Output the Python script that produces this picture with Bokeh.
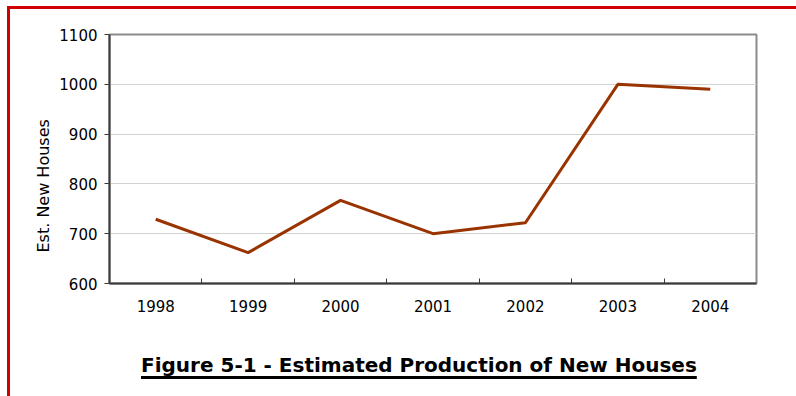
from bokeh.plotting import figure
from bokeh.models import Div, FixedTicker, Range1d, Title
from bokeh.layouts import column, row
from bokeh.embed import file_html
from bokeh.resources import INLINE

# Estimated production of new houses per year
years = [1998, 1999, 2000, 2001, 2002, 2003, 2004]
houses = [729, 662, 767, 700, 722, 1000, 990]
y_ticks = [600, 700, 800, 900, 1000, 1100]
title_text = "Figure 5-1 - Estimated Production of New Houses"
y_label = "Est. New Houses"

FONT = "DejaVu Sans"
AXIS_COLOR = "#3a3a3a"
RED = "#d00000"

p = figure(
    width=786, height=321,
    output_backend="svg", toolbar_location=None,
    x_range=Range1d(years[0] - 0.5, years[-1] + 0.5),
    y_range=Range1d(y_ticks[0], y_ticks[-1]),
    min_border_left=99, min_border_right=40,
    min_border_top=25, min_border_bottom=47,
    background_fill_color="white", border_fill_color="white",
    margin=0,
)
p.outline_line_color = "#8c8c8c"
p.outline_line_width = 2

# x axis: year labels at category centres, small ticks between years
xa = p.xaxis[0]
xa.ticker = FixedTicker(ticks=years, minor_ticks=[y + 0.5 for y in years[:-1]])
xa.major_label_overrides = {y: str(y) for y in years}
xa.major_tick_line_color = None
xa.major_tick_in = 0
xa.major_tick_out = 0
xa.minor_tick_in = 5
xa.minor_tick_out = 0
xa.minor_tick_line_color = AXIS_COLOR
xa.minor_tick_line_width = 1
xa.axis_line_color = AXIS_COLOR
xa.axis_line_width = 2
xa.major_label_text_font = FONT
xa.major_label_text_font_size = "15px"
xa.major_label_text_color = "black"
xa.major_label_standoff = 16

# y axis
ya = p.yaxis[0]
ya.ticker = FixedTicker(ticks=y_ticks)
ya.major_tick_in = 0
ya.major_tick_out = 5
ya.major_tick_line_color = AXIS_COLOR
ya.major_tick_line_width = 1
ya.minor_tick_line_color = None
ya.axis_line_color = AXIS_COLOR
ya.axis_line_width = 2
ya.major_label_text_font = FONT
ya.major_label_text_font_size = "15px"
ya.major_label_text_color = "black"
ya.major_label_standoff = 7

p.xgrid.grid_line_color = None
p.ygrid.ticker = FixedTicker(ticks=y_ticks)
p.ygrid.grid_line_color = "#d2d2d2"
p.ygrid.grid_line_width = 1

p.line(years, houses, line_color="#993300", line_width=3)

# vertical caption of the value axis, sitting low on the left side
p.add_layout(Title(
    text=y_label, align="left", offset=31, standoff=8,
    text_font=FONT, text_font_size="16px", text_font_style="normal",
    text_color="black",
), "left")

# bold, underlined figure caption under the chart
caption = Div(
    text=(
        '<div style="font-family:\'DejaVu Sans\';font-weight:bold;'
        'font-size:20px;line-height:20px;color:black;white-space:nowrap;'
        'padding:25px 0 0 131px;text-decoration:underline;'
        'text-decoration-thickness:3px;text-underline-offset:4px;">'
        f'{title_text}</div>'
    ),
    width=786, height=66, margin=0,
)

# red page rules along the top and left edges
top_rule = Div(text="", width=789, height=3, margin=(6, 0, 0, 7),
               styles={"background-color": RED})
left_rule = Div(text="", width=3, height=387, margin=(0, 0, 0, 7),
                styles={"background-color": RED})

page = column(
    top_rule,
    row(left_rule, column(p, caption, spacing=0, margin=0), spacing=0, margin=0),
    spacing=0, margin=0,
)

open("out.html", "w").write(file_html(page, INLINE))
